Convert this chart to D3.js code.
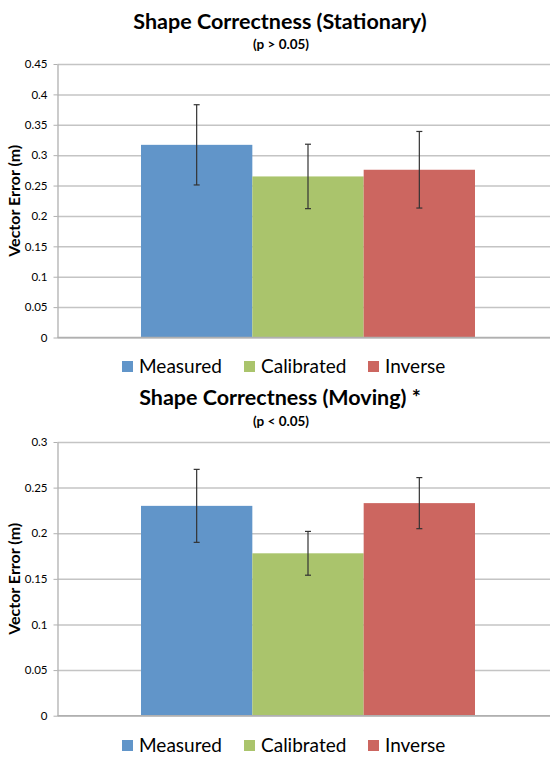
<!DOCTYPE html>
<html>
<head>
<meta charset="utf-8">
<script src="https://cdn.jsdelivr.net/npm/d3@7"></script>
<style>
  html, body { margin: 0; padding: 0; background: #fff; }
  svg { display: block; }
  text { font-family: Lato, "Open Sans", sans-serif; fill: #000; }
</style>
</head>
<body>
<svg id="chart" width="550" height="758"></svg>
<script>
// ---- data ----
const categories = ["Measured", "Calibrated", "Inverse"];
const seriesColors = ["#6195c9", "#aac46c", "#cc6660"];

const stationaryTitle = "Shape Correctness (Stationary)";
const stationarySubtitle = "(p > 0.05)";
const stationaryMeans = [0.317, 0.265, 0.276];
const stationaryErrors = [0.066, 0.053, 0.063];
const stationaryTicks = [0, 0.05, 0.1, 0.15, 0.2, 0.25, 0.3, 0.35, 0.4, 0.45];

const movingTitle = "Shape Correctness (Moving) *";
const movingSubtitle = "(p < 0.05)";
const movingMeans = [0.230, 0.178, 0.233];
const movingErrors = [0.040, 0.024, 0.028];
const movingTicks = [0, 0.05, 0.1, 0.15, 0.2, 0.25, 0.3];

const yAxisTitle = "Vector Error (m)";

// ---- drawing ----
const svg = d3.select("#chart");
const fmt = d => String(+d.toFixed(2));

function drawPanel(cfg) {
  const g = svg.append("g");
  const left = 57.5, right = 558.5;
  const y = d3.scaleLinear()
    .domain([0, d3.max(cfg.ticks)])
    .range([cfg.bottom, cfg.top]);

  const xGroup = d3.scaleBand().domain(["all"]).range([left, right])
    .paddingInner(0).paddingOuter(0.25);
  const xInner = d3.scaleBand().domain(categories)
    .range([0, xGroup.bandwidth()]).padding(0);

  // titles
  g.append("text").attr("x", 280).attr("y", cfg.titleY)
    .attr("text-anchor", "middle").attr("font-weight", "bold")
    .attr("font-size", 21.5).text(cfg.title);
  g.append("text").attr("x", 281).attr("y", cfg.subY)
    .attr("text-anchor", "middle").attr("font-weight", "bold")
    .attr("font-size", 13.5).text(cfg.subtitle);

  // gridlines
  const grid = g.append("g").attr("transform", `translate(${left},0)`)
    .call(d3.axisLeft(y).tickValues(cfg.ticks).tickSize(-(right - left)).tickFormat(""));
  grid.select(".domain").remove();
  grid.selectAll("line").attr("stroke", "#c4c4c4").attr("stroke-width", 1.5);

  // bars
  const bx = c => xGroup("all") + xInner(c);
  g.append("g").selectAll("rect").data(categories).join("rect")
    .attr("x", c => bx(c))
    .attr("y", (c, i) => y(cfg.means[i]))
    .attr("width", xInner.bandwidth())
    .attr("height", (c, i) => y(0) - y(cfg.means[i]))
    .attr("fill", (c, i) => seriesColors[i]);

  // y axis
  const ax = g.append("g").attr("transform", `translate(${left},0)`)
    .call(d3.axisLeft(y).tickValues(cfg.ticks).tickFormat(fmt).tickSizeInner(4).tickSizeOuter(0).tickPadding(6));
  ax.select(".domain").attr("stroke", "#b0b0b0").attr("stroke-width", 1.3);
  ax.selectAll(".tick line").attr("stroke", "#b0b0b0");
  ax.selectAll(".tick text").attr("font-family", "Lato, sans-serif").attr("font-size", 11.5).attr("fill", "#000");

  // x axis baseline
  g.append("line").attr("x1", left).attr("x2", right)
    .attr("y1", y(0)).attr("y2", y(0))
    .attr("stroke", "#b0b0b0").attr("stroke-width", 1.3);

  // error bars
  const eb = g.append("g").attr("stroke", "#333").attr("stroke-width", 1.2);
  categories.forEach((c, i) => {
    const cx = bx(c) + xInner.bandwidth() / 2;
    const y1 = y(cfg.means[i] + cfg.errors[i]);
    const y2 = y(cfg.means[i] - cfg.errors[i]);
    eb.append("line").attr("x1", cx).attr("x2", cx).attr("y1", y1).attr("y2", y2);
    eb.append("line").attr("x1", cx - 3).attr("x2", cx + 3).attr("y1", y1).attr("y2", y1);
    eb.append("line").attr("x1", cx - 3).attr("x2", cx + 3).attr("y1", y2).attr("y2", y2);
  });

  // y axis title
  const midY = (cfg.top + cfg.bottom) / 2;
  g.append("text").attr("transform", `translate(20,${midY}) rotate(-90)`)
    .attr("text-anchor", "middle").attr("font-weight", "bold")
    .attr("font-size", 16).text(yAxisTitle);

  // legend
  const legX = [122, 244, 368];
  const leg = g.append("g");
  categories.forEach((c, i) => {
    leg.append("rect").attr("x", legX[i]).attr("y", cfg.legendY - 12)
      .attr("width", 11).attr("height", 11).attr("fill", seriesColors[i]);
    leg.append("text").attr("x", legX[i] + 17).attr("y", cfg.legendY)
      .attr("font-size", 19).text(c);
  });
}

drawPanel({
  title: stationaryTitle, subtitle: stationarySubtitle,
  means: stationaryMeans, errors: stationaryErrors, ticks: stationaryTicks,
  top: 64, bottom: 337.5, titleY: 29, subY: 49, legendY: 373
});
drawPanel({
  title: movingTitle, subtitle: movingSubtitle,
  means: movingMeans, errors: movingErrors, ticks: movingTicks,
  top: 442, bottom: 715.7, titleY: 405, subY: 426, legendY: 752
});
</script>
</body>
</html>
